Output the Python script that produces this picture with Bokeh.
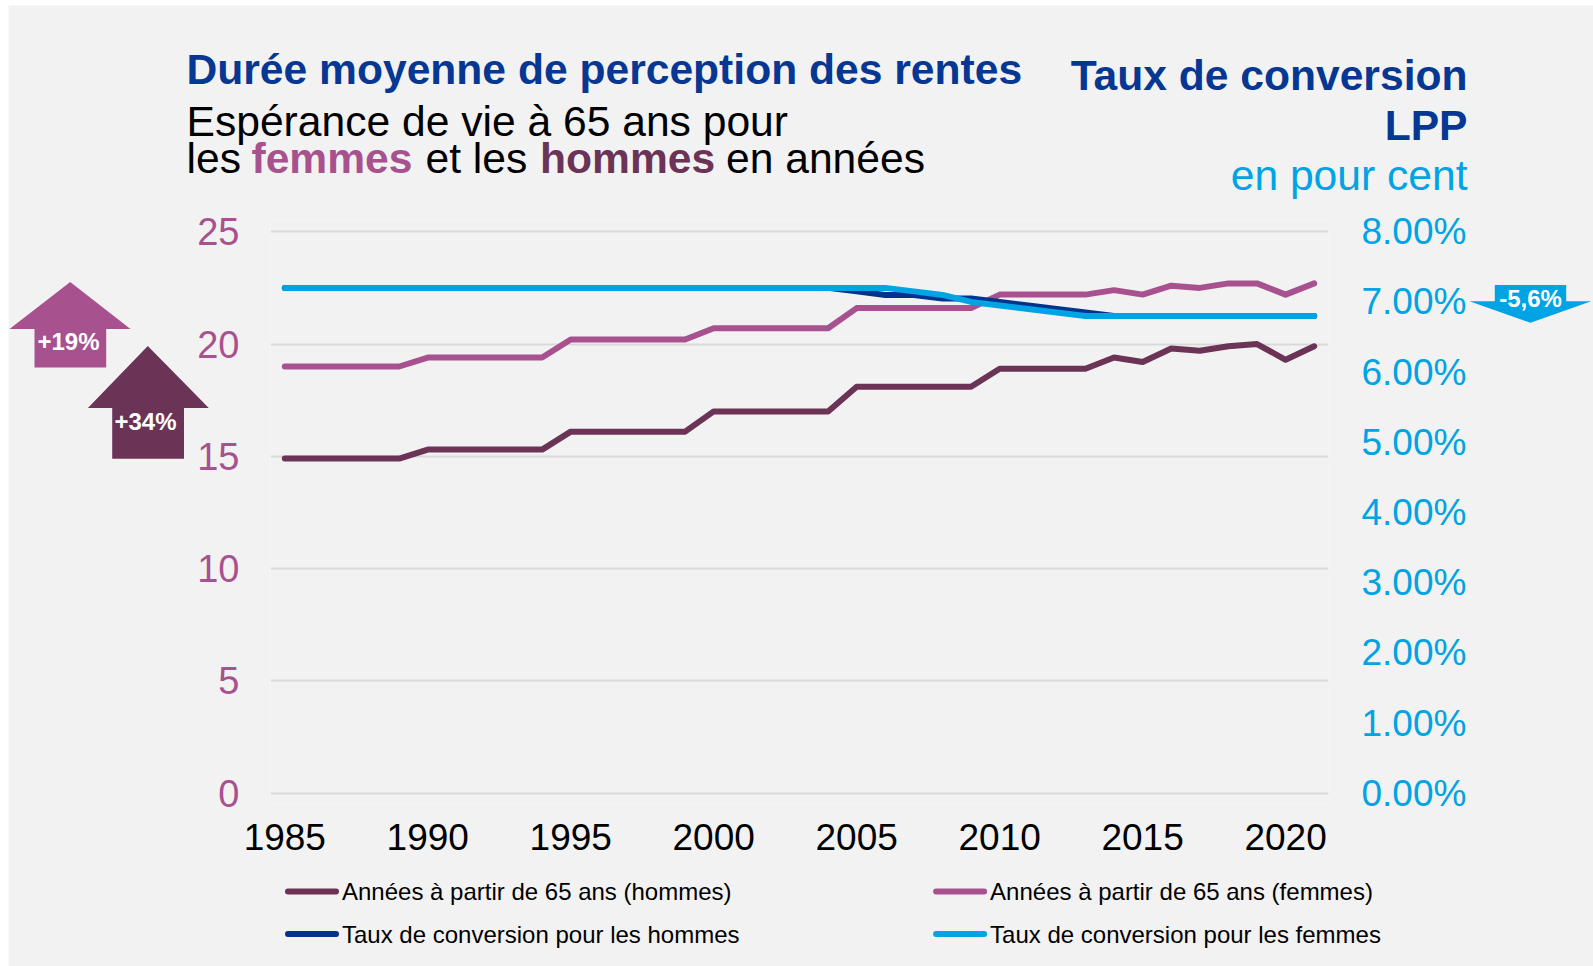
from bokeh.plotting import figure
from bokeh.models import Range1d, LinearAxis, FixedTicker, PrintfTickFormatter
from bokeh.core.properties import value
from bokeh.embed import file_html
from bokeh.resources import INLINE

# ---------------- data ----------------
years = list(range(1985, 2022))
men_life = [14.9, 14.9, 14.9, 14.9, 14.9, 15.3, 15.3, 15.3, 15.3, 15.3,
            16.1, 16.1, 16.1, 16.1, 16.1, 17.0, 17.0, 17.0, 17.0, 17.0,
            18.1, 18.1, 18.1, 18.1, 18.1, 18.9, 18.9, 18.9, 18.9,
            19.4, 19.2, 19.8, 19.7, 19.9, 20.0, 19.3, 19.9]
women_life = [19.0, 19.0, 19.0, 19.0, 19.0, 19.4, 19.4, 19.4, 19.4, 19.4,
              20.2, 20.2, 20.2, 20.2, 20.2, 20.7, 20.7, 20.7, 20.7, 20.7,
              21.6, 21.6, 21.6, 21.6, 21.6, 22.2, 22.2, 22.2, 22.2,
              22.4, 22.2, 22.6, 22.5, 22.7, 22.7, 22.2, 22.7]
conv_men = [7.2, 7.2, 7.2, 7.2, 7.2, 7.2, 7.2, 7.2, 7.2, 7.2,
            7.2, 7.2, 7.2, 7.2, 7.2, 7.2, 7.2, 7.2, 7.2, 7.2,
            7.15, 7.10, 7.10, 7.05, 7.05, 7.00, 6.95, 6.90, 6.85,
            6.80, 6.80, 6.80, 6.80, 6.80, 6.80, 6.80, 6.80]
conv_women = [7.2, 7.2, 7.2, 7.2, 7.2, 7.2, 7.2, 7.2, 7.2, 7.2,
              7.2, 7.2, 7.2, 7.2, 7.2, 7.2, 7.2, 7.2, 7.2, 7.2,
              7.2, 7.2, 7.15, 7.10, 7.00, 6.95, 6.90, 6.85, 6.80,
              6.80, 6.80, 6.80, 6.80, 6.80, 6.80, 6.80, 6.80]
x_ticks = [1985, 1990, 1995, 2000, 2005, 2010, 2015, 2020]
left_ticks = [0, 5, 10, 15, 20, 25]
right_ticks = [0, 1, 2, 3, 4, 5, 6, 7, 8]
labels = ["Années à partir de 65 ans (hommes)", "Années à partir de 65 ans (femmes)",
          "Taux de conversion pour les hommes", "Taux de conversion pour les femmes"]
arrow_texts = ["+19%", "+34%", "-5,6%"]

# ---------------- style ----------------
C_MEN = "#6b3355"
C_WOMEN = "#a8518f"
C_NAVY = "#00338d"
C_TITLE = "#063792"
C_LIGHT = "#00a3e3"
BG = "#f2f2f2"
FONT = "Liberation Sans"
TS = "42.6px"

W, H = 1593, 966
BL, BR, BT, BB = 270, 265, 220, 162
FW = W - BL - BR
FH = H - BT - BB
X0, X1 = 1984.5, 2021.5
Y0, Y1 = -0.5, 25.5
R0, R1 = Y0 * 8 / 25, Y1 * 8 / 25


def dx(px):
    return X0 + (px - BL) * (X1 - X0) / FW


def dy(py):
    return Y1 - (py - BT) * (Y1 - Y0) / FH


p = figure(width=W, height=H, output_backend="svg", toolbar_location=None,
           x_range=Range1d(X0, X1), y_range=Range1d(Y0, Y1),
           min_border_left=BL, min_border_right=BR, min_border_top=BT,
           min_border_bottom=BB)
p.background_fill_color = BG
p.border_fill_color = BG
p.outline_line_color = None
p.extra_y_ranges = {"rate": Range1d(R0, R1)}

# axes
p.xaxis.ticker = FixedTicker(ticks=x_ticks)
p.yaxis.ticker = FixedTicker(ticks=left_ticks)
for ax in (p.xaxis[0], p.yaxis[0]):
    ax.axis_line_color = None
    ax.major_tick_line_color = None
    ax.minor_tick_line_color = None
    ax.major_tick_out = 0
    ax.major_tick_in = 0
    ax.major_label_text_font = FONT
p.xaxis.major_label_text_font_size = "37px"
p.xaxis.major_label_text_color = "#000000"
p.xaxis.major_label_standoff = 19
p.yaxis.major_label_text_font_size = "38px"
p.yaxis.major_label_text_color = C_WOMEN
p.yaxis.major_label_standoff = 31

rax = LinearAxis(y_range_name="rate", ticker=FixedTicker(ticks=right_ticks),
                 formatter=PrintfTickFormatter(format="%.2f%%"))
rax.axis_line_color = None
rax.major_tick_line_color = None
rax.minor_tick_line_color = None
rax.major_tick_out = 0
rax.major_tick_in = 0
rax.major_label_text_font = FONT
rax.major_label_text_font_size = "37px"
rax.major_label_text_color = C_LIGHT
rax.major_label_standoff = 33
p.add_layout(rax, "right")

p.xgrid.grid_line_color = None
p.ygrid.grid_line_color = "#d9d9d9"
p.ygrid.grid_line_width = 2
p.ygrid.ticker = FixedTicker(ticks=left_ticks)

# lines
kw = dict(line_width=6, line_cap="round", line_join="round")
r_men = p.line(years, men_life, line_color=C_MEN, **kw)
r_women = p.line(years, women_life, line_color=C_WOMEN, **kw)
r_cm = p.line(years, conv_men, line_color=C_NAVY, y_range_name="rate", **kw)
r_cw = p.line(years, conv_women, line_color=C_LIGHT, y_range_name="rate", **kw)


# ---------- helpers for content outside the plot frame ----------
def txt(px, py, text, color, bold=False, size=TS, align="left"):
    p.text(x=[dx(px)], y=[dy(py)], text=[text], text_color=color,
           text_font=value(FONT), text_font_size=value(size),
           text_font_style="bold" if bold else "normal",
           text_align=align, text_baseline="middle", level="overlay")


def poly(pts, color):
    p.patch([dx(a) for a, b in pts], [dy(b) for a, b in pts],
            fill_color=color, line_color=None, level="overlay")


# page margin strips (white) at top and left
poly([(0, 0), (8, 0), (8, 966), (0, 966)], "#ffffff")
poly([(0, 0), (1593, 0), (1593, 5), (0, 5)], "#ffffff")

# legend (two columns, two rows)
leg_rows = [(891, r_men, labels[0], 284.5), (891, r_women, labels[1], 932.6),
            (933.6, r_cm, labels[2], 284.5), (933.6, r_cw, labels[3], 932.6)]
for py, rend, text, px in leg_rows:
    col = rend.glyph.line_color
    p.segment(x0=[dx(px + 3)], y0=[dy(py)], x1=[dx(px + 51)], y1=[dy(py)],
              line_color=col, line_width=6, line_cap="round", level="overlay")
    txt(px + 57, py, text, "#000000", size="24px")

# titles (y = vertical centre of the text line)
txt(186, 68.5, "Durée moyenne de perception des rentes", C_TITLE, bold=True)
txt(186, 120.5, "Espérance de vie à 65 ans pour", "#000000")
txt(186, 157.5, "les ", "#000000")
txt(251, 157.5, "femmes", C_WOMEN, bold=True)
txt(425, 157.5, "et les", "#000000")
txt(539.5, 157.5, "hommes", C_MEN, bold=True)
txt(725.5, 157.5, "en années", "#000000")
txt(1467, 74, "Taux de conversion", C_TITLE, bold=True, align="right")
txt(1467, 124.5, "LPP", C_TITLE, bold=True, align="right")
txt(1467, 174.5, "en pour cent", C_LIGHT, align="right")

# arrows
poly([(69.7, 281.4), (130, 328.5), (105.7, 328.5), (105.7, 367), (34, 367),
      (34, 328.5), (9, 328.5)], C_WOMEN)
poly([(147.3, 345.4), (208.3, 407.5), (183.5, 407.5), (183.5, 458.2), (111.7, 458.2),
      (111.7, 407.5), (87.4, 407.5)], C_MEN)
poly([(1494.3, 284.5), (1565.7, 284.5), (1565.7, 300.7), (1590.7, 300.7), (1530, 322.3),
      (1469, 300.7), (1494.3, 300.7)], C_LIGHT)

txt(68, 340.5, arrow_texts[0], "#ffffff", bold=True, size="24px", align="center")
txt(145, 421, arrow_texts[1], "#ffffff", bold=True, size="24px", align="center")
txt(1530, 297.5, arrow_texts[2], "#ffffff", bold=True, size="24px", align="center")

open("out.html", "w").write(file_html(p, INLINE))
